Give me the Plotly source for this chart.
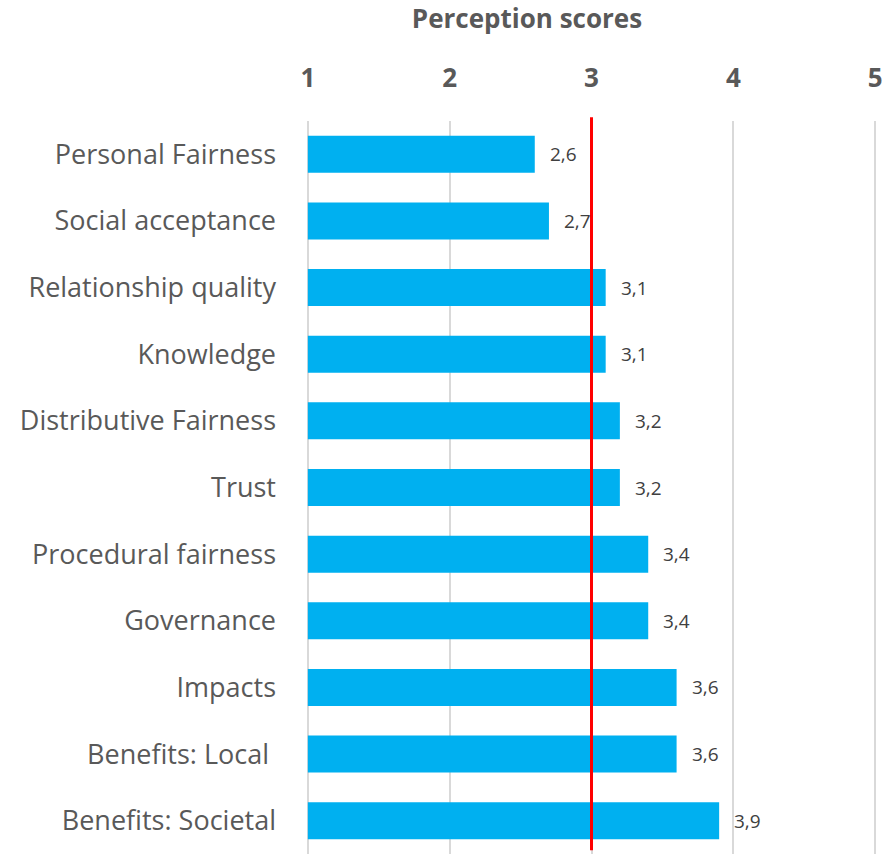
import plotly.graph_objects as go

categories = ["Personal Fairness", "Social acceptance", "Relationship quality", "Knowledge",
              "Distributive Fairness", "Trust", "Procedural fairness", "Governance",
              "Impacts", "Benefits: Local ", "Benefits: Societal"]
values = [2.6, 2.7, 3.1, 3.1, 3.2, 3.2, 3.4, 3.4, 3.6, 3.6, 3.9]
x_ticks = [1, 2, 3, 4, 5]
scale_min = 1
reference_value = 3
title_text = "Perception scores"

labels = [f"{v:.1f}".replace(".", ",") for v in values]

FONT = "Open Sans, sans-serif"
GREY = "#595959"

fig = go.Figure()
fig.add_trace(go.Bar(
    y=categories, x=[v - scale_min for v in values], base=[scale_min] * len(values),
    orientation="h",
    marker=dict(color="#00B0F0", line=dict(width=0)),
    hoverinfo="skip",
))

for c, v, t in zip(categories, values, labels):
    fig.add_annotation(x=v, y=c, text=t, showarrow=False, xanchor="left",
                       xshift=13, font=dict(family=FONT, size=19, color="#404040"))

fig.add_shape(type="line", x0=reference_value, x1=reference_value, xref="x",
              y0=0.005, y1=1.005, yref="paper", line=dict(color="#FF0000", width=3))

fig.update_layout(
    width=895, height=854,
    margin=dict(l=305, r=17, t=121, b=0),
    paper_bgcolor="white", plot_bgcolor="white",
    bargap=0.445,
    showlegend=False,
    title=dict(text=f"<b>{title_text}</b>", x=(527 - 305) / 573, xref="paper", xanchor="center",
               y=1 - 19 / 854, yref="container", yanchor="middle",
               font=dict(family=FONT, size=26, color=GREY)),
    xaxis=dict(range=[0.98, 5.02], side="top", tickvals=x_ticks,
               ticktext=[f"<b>{t}</b>" for t in x_ticks],
               tickfont=dict(family=FONT, size=26, color=GREY),
               showgrid=True, gridcolor="#D9D9D9", gridwidth=1.5,
               zeroline=False, showline=False, ticks="", ticklabelstandoff=28),
    yaxis=dict(autorange="reversed", tickfont=dict(family=FONT, size=27, color=GREY),
               showgrid=False, zeroline=False, showline=False, ticks="",
               ticklabelstandoff=28),
)

fig.write_html("out.html")
